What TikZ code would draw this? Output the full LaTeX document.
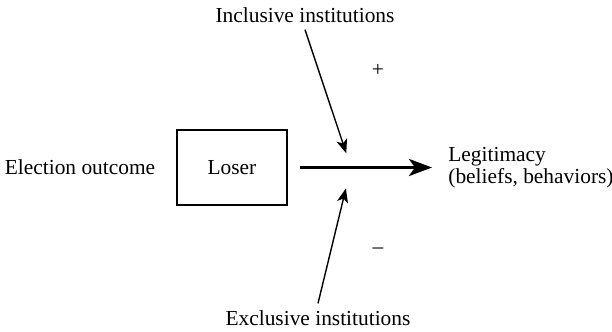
\documentclass[tikz,border=0pt]{standalone}
\usepackage{fontspec}
\setmainfont{Liberation Serif}
\usetikzlibrary{arrows.meta}

\begin{document}
\begin{tikzpicture}[x=0.5pt,y=-0.5pt,
    font=\fontsize{10.7}{9.6}\selectfont,
    flow/.style={-{Stealth[length=11.5pt,width=8.5pt,inset=3pt]},line width=1.7pt},
    push/.style={-{Stealth[length=7pt,width=5.5pt,inset=1.8pt]},line width=0.7pt}]
    \useasboundingbox (0,0) rectangle (612,332);
    \node (elec) at (80,167.5) {Election outcome};
    \node[draw,line width=0.6pt,minimum width=55pt,minimum height=37.5pt] (loser) at (232,167.5) {Loser};
    \node[inner sep=0pt,anchor=west,align=left] (legit) at (448,167.5) {Legitimacy\\(beliefs, behaviors)};
    \node (incl) at (305,15) {Inclusive institutions};
    \node (excl) at (318,318) {Exclusive institutions};
    \node (plus) at (378,70) {+};
    \node (minus) at (378,251) {--};
    \coordinate (mod) at (351,167.5);
    % main line
    \draw[flow,shorten <=6pt,shorten >=8pt] (loser) -- (legit);
    % from above and below
    \draw[push,shorten >=7.5pt] (incl.south) -- (mod);
    \draw[push,shorten >=10.8pt] (excl.north) -- (mod);
\end{tikzpicture}
\end{document}
